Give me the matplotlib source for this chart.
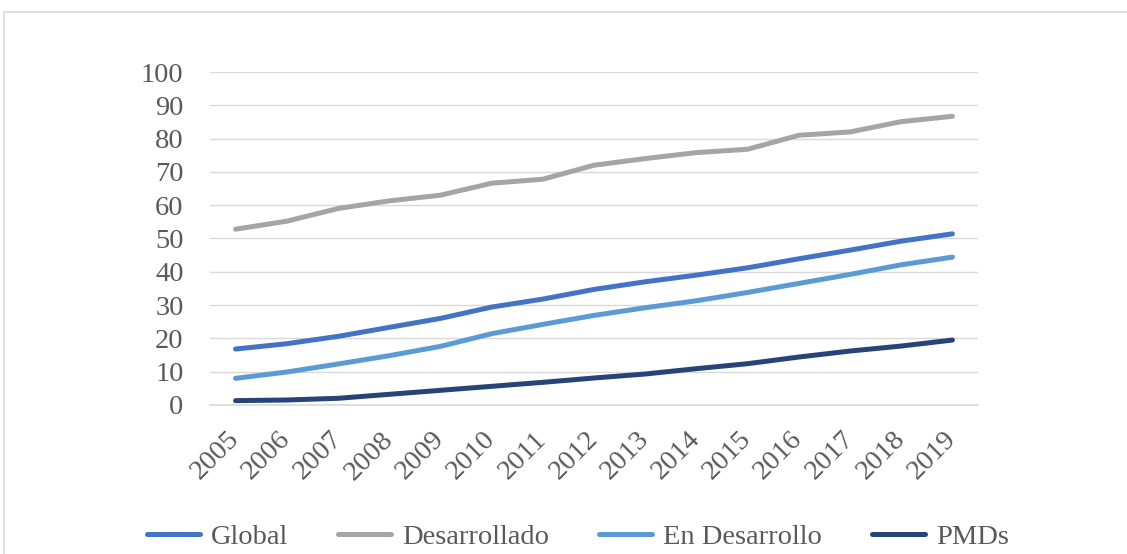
import numpy as np
import matplotlib.pyplot as plt
from matplotlib.patches import Rectangle

plt.rcParams['font.family'] = ['Liberation Serif', 'DejaVu Serif']

years = ['2005', '2006', '2007', '2008', '2009', '2010', '2011', '2012',
         '2013', '2014', '2015', '2016', '2017', '2018', '2019']
global_vals = [16.8, 18.4, 20.6, 23.3, 26.0, 29.4, 31.8, 34.7, 37.0, 39.0,
               41.2, 43.9, 46.5, 49.2, 51.4]
desarrollado = [52.8, 55.2, 59.0, 61.3, 63.0, 66.6, 67.8, 72.0, 74.0, 75.8,
                76.8, 81.0, 82.0, 85.1, 86.7]
en_desarrollo = [8.0, 9.9, 12.3, 14.8, 17.6, 21.4, 24.2, 26.9, 29.2, 31.3,
                 33.8, 36.5, 39.2, 42.1, 44.4]
pmds = [1.3, 1.5, 2.0, 3.2, 4.4, 5.6, 6.8, 8.1, 9.3, 10.9, 12.4, 14.4, 16.2,
        17.7, 19.5]

series = [("Global", global_vals, "#4472C4"),
          ("Desarrollado", desarrollado, "#A5A5A5"),
          ("En Desarrollo", en_desarrollo, "#5B9BD5"),
          ("PMDs", pmds, "#264478")]

fig = plt.figure(figsize=(11.27, 5.54), dpi=100)
ax = fig.add_axes([0.1863, 0.269, 0.6815, 0.601])

# outer frame of the chart area
fig.patches.append(Rectangle((4 / 1127, -0.05), 1.2, (554 - 12) / 554 + 0.05,
                             transform=fig.transFigure, fill=False,
                             edgecolor="#D9D9D9", linewidth=1.2))

x = np.arange(len(years))
for name, vals, col in series:
    ax.plot(x, vals, color=col, linewidth=3.6, label=name,
            solid_capstyle='round')

ax.set_xlim(-0.5, len(years) - 0.5)
ax.set_ylim(0, 100)
ax.set_yticks(np.arange(0, 101, 10))
ax.set_xticks(x)
ax.set_xticklabels(years, rotation=45, ha='right', va='center',
                   rotation_mode='anchor')

ax.grid(True, axis='y', color="#D9D9D9", linewidth=1)
ax.set_axisbelow(True)
for s in ['top', 'right', 'left']:
    ax.spines[s].set_visible(False)
ax.spines['bottom'].set_color("#D9D9D9")
ax.spines['bottom'].set_linewidth(1.2)
ax.tick_params(axis='both', length=0, labelsize=20.5, colors="#595959")
ax.tick_params(axis='y', pad=19)
ax.tick_params(axis='x', pad=22)

leg = fig.legend(loc='center', bbox_to_anchor=(0.513, 0.03), ncol=4,
                 frameon=False, fontsize=20.5, handlelength=1.85,
                 columnspacing=1.75, handletextpad=0.4)
for t in leg.get_texts():
    t.set_color("#595959")

fig.savefig("out.png", dpi=100)
